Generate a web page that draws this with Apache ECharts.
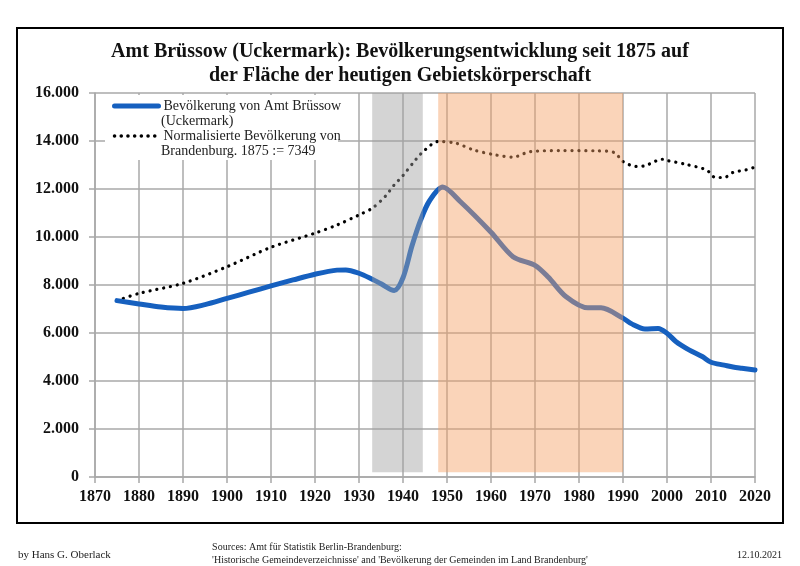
<!DOCTYPE html>
<html><head><meta charset="utf-8">
<script src="https://cdn.jsdelivr.net/npm/echarts@6/dist/echarts.min.js"></script>
<style>html,body{margin:0;padding:0;background:#fff}#c{width:800px;height:566px}</style>
</head><body><div id="c"></div>
<script>
const popYears  = [1875,1880,1885,1890,1895,1900,1905,1910,1915,1920,1925,1927,1930,1933,1935,1938,1940,1942,1944,1946,1949,1953,1960,1965,1970,1973,1977,1982,1985,1990,1992,1995,1998,2000,2002,2005,2008,2010,2013,2015,2017,2020];
const popValues = [7349,7210,7080,7020,7180,7440,7700,7960,8210,8450,8620,8630,8490,8240,8050,7770,8300,9600,10700,11500,12080,11480,10200,9180,8820,8330,7520,7050,7050,6620,6380,6170,6190,5990,5650,5300,5020,4780,4660,4580,4530,4460];
const brbYears  = [1875,1880,1890,1900,1910,1920,1925,1930,1933,1936,1938,1940,1943,1945,1948,1952,1956,1961,1965,1969,1976,1984,1988,1990,1993,1995,1999,2000,2004,2009,2011,2013,2015,2018,2020];
const brbValues = [7349,7650,8070,8760,9570,10160,10500,10920,11200,11700,12170,12560,13250,13630,13980,13910,13630,13420,13330,13560,13600,13590,13520,13145,12940,12970,13240,13190,13040,12790,12480,12480,12690,12800,12910];
const nsBand  = [1933, 1944.5];
const gdrBand = [1948, 1990];
const titleText = 'Amt Brüssow (Uckermark): Bevölkerungsentwicklung seit 1875 auf\nder Fläche der heutigen Gebietskörperschaft';
const seriesNames = ['Bevölkerung von Amt Brüssow', 'Normalisierte Bevölkerung von'];
const legendSecondLines = ['(Uckermark)', 'Brandenburg. 1875 := 7349'];

const serif = '"Liberation Serif", "DejaVu Serif", serif';
const gridColor = '#a8a8a8';
const blue = '#1660bf';

const chart = echarts.init(document.getElementById('c'), null, {renderer: 'canvas'});
chart.setOption({
  animation: false,
  backgroundColor: '#fff',
  title: {
    text: titleText, left: 'center', top: 35,
    textStyle: {fontFamily: serif, fontSize: 20, fontWeight: 'bold', color: '#111', lineHeight: 24}
  },
  grid: {left: 95, right: 45, top: 93, bottom: 89, containLabel: false},
  xAxis: {
    type: 'value', min: 1870, max: 2020, interval: 10,
    axisLine: {lineStyle: {color: gridColor, width: 1.5}},
    axisTick: {show: true, length: 6, lineStyle: {color: gridColor, width: 1.5}},
    splitLine: {show: true, lineStyle: {color: gridColor, width: 1.5}},
    axisLabel: {margin: 12, fontFamily: serif, fontSize: 16, fontWeight: 'bold', color: '#111', formatter: v => String(v)}
  },
  yAxis: {
    type: 'value', min: 0, max: 16000, interval: 2000,
    axisLine: {show: true, lineStyle: {color: gridColor, width: 1.5}},
    axisTick: {show: true, length: 6, lineStyle: {color: gridColor, width: 1.5}},
    splitLine: {show: true, lineStyle: {color: gridColor, width: 1.5}},
    axisLabel: {margin: 16, fontFamily: serif, fontSize: 16, fontWeight: 'bold', color: '#111',
      formatter: v => v === 0 ? '0' : (v/1000).toFixed(0) + '.000'}
  },
  legend: {
    data: [
      {name: seriesNames[0], lineStyle: {width: 5, color: blue, cap: 'round'}},
      {name: seriesNames[1], lineStyle: {width: 3.5, color: '#000', type: [0.1, 6.6], cap: 'round'}}
    ],
    orient: 'vertical', left: 112, top: 99, itemWidth: 44, itemHeight: 14, itemGap: 16,
    padding: 0, z: 20, itemStyle: {opacity: 0},
    textStyle: {fontFamily: serif, fontSize: 14, color: '#222'}
  },
  graphic: [
    {type: 'rect', z: 15, shape: {x: 105, y: 95, width: 233, height: 65}, style: {fill: '#fff'}},
    {type: 'text', z: 21, left: 161, top: 114, style: {text: legendSecondLines[0], font: '14px ' + serif, fill: '#222'}},
    {type: 'text', z: 21, left: 161, top: 144, style: {text: legendSecondLines[1], font: '14px ' + serif, fill: '#222'}},
    {type: 'rect', z: 30, shape: {x: 17, y: 28, width: 766, height: 495}, style: {fill: 'none', stroke: '#000', lineWidth: 2}},
    {type: 'text', z: 30, left: 18, top: 550, style: {text: 'by Hans G. Oberlack', font: '11px ' + serif, fill: '#222'}},
    {type: 'text', z: 30, right: 18, top: 550, style: {text: '12.10.2021', font: '10px ' + serif, fill: '#222'}},
    {type: 'text', z: 30, left: 'center', top: 541, style: {text: "Sources: Amt für Statistik Berlin-Brandenburg:\n'Historische Gemeindeverzeichnisse' and 'Bevölkerung der Gemeinden im Land Brandenburg'", font: '10px ' + serif, fill: '#222', align: 'center', lineHeight: 13}}
  ],
  series: [
    {
      name: seriesNames[0], type: 'line', smooth: 0.3, symbol: 'none', z: 3,
      data: popYears.map((y, i) => [y, popValues[i]]),
      lineStyle: {color: blue, width: 5, cap: 'round', join: 'round'},
      itemStyle: {color: blue}
    },
    {
      name: seriesNames[1], type: 'line', smooth: 0.3, symbol: 'none', z: 2,
      data: brbYears.map((y, i) => [y, brbValues[i]]),
      lineStyle: {color: '#000', width: 3.2, type: [0.1, 6.8], cap: 'round'},
      itemStyle: {color: '#000'}
    },
    {
      name: 'bands', type: 'line', data: [], z: 10, clip: false, silent: true,
      markArea: {
        silent: true, z: 10,
        data: [
          [{xAxis: nsBand[0], yAxis: 200, itemStyle: {color: 'rgba(160,160,160,0.45)'}}, {xAxis: nsBand[1], yAxis: 16120}],
          [{xAxis: gdrBand[0], yAxis: 200, itemStyle: {color: 'rgba(245,160,100,0.45)'}}, {xAxis: gdrBand[1], yAxis: 16120}]
        ]
      }
    }
  ]
});
</script></body></html>
